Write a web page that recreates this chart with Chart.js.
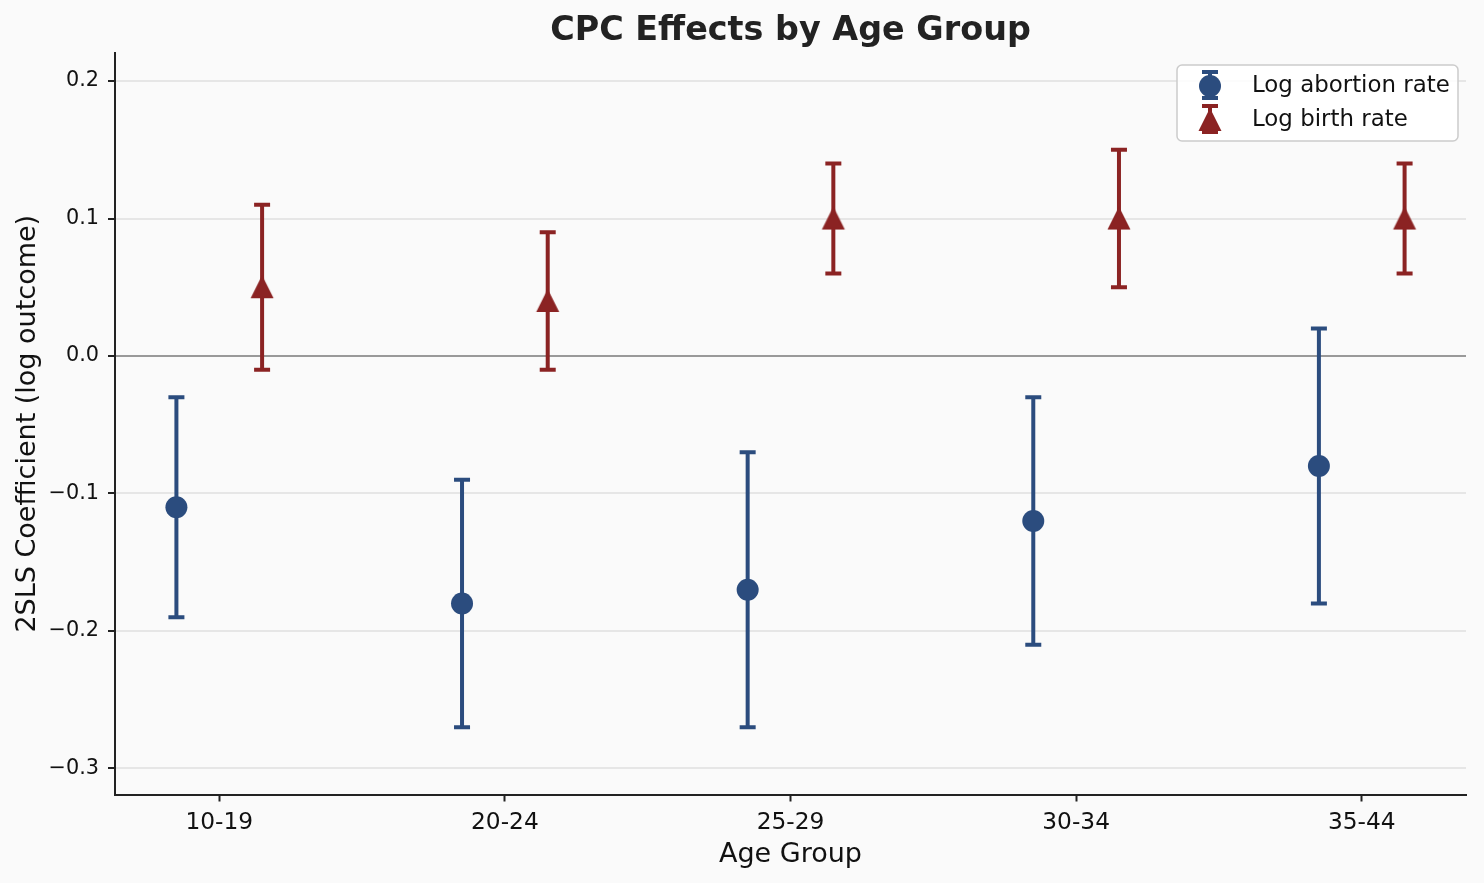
<!DOCTYPE html>
<html>
<head>
<meta charset="utf-8">
<script src="https://cdn.jsdelivr.net/npm/chart.js@4.4.0/dist/chart.umd.min.js"></script>
<style>
html,body{margin:0;padding:0;background:#fafafa;}
#wrap{width:1484px;height:883px;position:relative;}
</style>
</head>
<body>
<div id="wrap"><canvas id="c" width="1484" height="883"></canvas></div>
<script>
const categories = ['10-19', '20-24', '25-29', '30-34', '35-44'];
const abortionCoef = [-0.11, -0.18, -0.17, -0.12, -0.08];
const abortionLow  = [-0.19, -0.27, -0.27, -0.21, -0.18];
const abortionHigh = [-0.03, -0.09, -0.07, -0.03, 0.02];
const birthCoef = [0.05, 0.04, 0.10, 0.10, 0.10];
const birthLow  = [-0.01, -0.01, 0.06, 0.05, 0.06];
const birthHigh = [0.11, 0.09, 0.14, 0.15, 0.14];
const yTicks = [-0.3, -0.2, -0.1, 0.0, 0.1, 0.2];
const seriesNames = ['Log abortion rate', 'Log birth rate'];
const offsets = [-0.15, 0.15];

const BLUE = '#2b4c7e';
const RED = '#8b2323';
const FONT = "'DejaVu Sans', sans-serif";

function pts(vals, lo, hi, off) {
  return vals.map((v, i) => ({x: i + off, y: v, lo: lo[i], hi: hi[i]}));
}

function drawTri(ctx, cx, cy, color) {
  const h = 10.2;
  ctx.save();
  ctx.fillStyle = color;
  ctx.strokeStyle = color;
  ctx.lineWidth = 1.6;
  ctx.lineJoin = 'miter';
  ctx.beginPath();
  ctx.moveTo(cx, cy - h);
  ctx.lineTo(cx + h, cy + h);
  ctx.lineTo(cx - h, cy + h);
  ctx.closePath();
  ctx.fill();
  ctx.stroke();
  ctx.restore();
}

const triCanvas = document.createElement('canvas');
triCanvas.width = 28; triCanvas.height = 28;
drawTri(triCanvas.getContext('2d'), 14, 14, RED);

const errorBars = {
  id: 'errorBars',
  beforeDatasetsDraw(chart) {
    const ctx = chart.ctx;
    const xs = chart.scales.x, ys = chart.scales.y;
    chart.data.datasets.forEach(ds => {
      ctx.save();
      ctx.strokeStyle = ds.borderColor;
      ctx.lineWidth = 4;
      ctx.lineCap = 'butt';
      ds.data.forEach(p => {
        const px = xs.getPixelForValue(p.x);
        const yl = ys.getPixelForValue(p.lo);
        const yh = ys.getPixelForValue(p.hi);
        ctx.beginPath();
        ctx.moveTo(px, yl); ctx.lineTo(px, yh);
        ctx.moveTo(px - 8, yl); ctx.lineTo(px + 8, yl);
        ctx.moveTo(px - 8, yh); ctx.lineTo(px + 8, yh);
        ctx.stroke();
      });
      ctx.restore();
    });
  },
  afterDraw(chart) {
    const ctx = chart.ctx;
    const ca = chart.chartArea;
    ctx.save();
    // title
    ctx.fillStyle = '#222';
    ctx.font = "bold 33.4px " + FONT;
    ctx.textAlign = 'center';
    ctx.textBaseline = 'alphabetic';
    ctx.fillText('CPC Effects by Age Group', (ca.left + ca.right) / 2, 39.5);
    // legend
    const bx = 1177, by = 65, bw = 281, bh = 76;
    ctx.beginPath();
    ctx.roundRect(bx, by, bw, bh, 5);
    ctx.fillStyle = 'rgba(255,255,255,0.85)';
    ctx.fill();
    ctx.strokeStyle = '#cccccc';
    ctx.lineWidth = 1.5;
    ctx.stroke();
    chart.data.datasets.forEach((ds, i) => {
      const cy = 86 + i * 34;
      const mx = 1210;
      ctx.strokeStyle = ds.borderColor;
      ctx.lineWidth = 4;
      ctx.beginPath();
      ctx.moveTo(mx, cy - 14); ctx.lineTo(mx, cy + 12);
      ctx.moveTo(mx - 8, cy - 14); ctx.lineTo(mx + 8, cy - 14);
      ctx.moveTo(mx - 8, cy + 12); ctx.lineTo(mx + 8, cy + 12);
      ctx.stroke();
      if (i === 0) {
        ctx.fillStyle = ds.backgroundColor;
        ctx.beginPath();
        ctx.arc(mx, cy, 11, 0, Math.PI * 2);
        ctx.fill();
      } else {
        drawTri(ctx, mx, cy, RED);
      }
      ctx.fillStyle = '#111';
      ctx.font = "22.9px " + FONT;
      ctx.textAlign = 'left';
      ctx.textBaseline = 'alphabetic';
      ctx.fillText(ds.label, 1252, cy + 6.2);
    });
    ctx.restore();
  }
};

const bg = {
  id: 'bg',
  beforeDraw(chart) {
    const ctx = chart.ctx;
    ctx.save();
    ctx.fillStyle = '#fafafa';
    ctx.fillRect(0, 0, chart.width, chart.height);
    ctx.restore();
  }
};

new Chart(document.getElementById('c'), {
  type: 'scatter',
  data: {
    datasets: [
      {
        label: seriesNames[0],
        data: pts(abortionCoef, abortionLow, abortionHigh, offsets[0]),
        backgroundColor: BLUE, borderColor: BLUE,
        pointStyle: 'circle', pointRadius: 11, pointHoverRadius: 11, borderWidth: 0
      },
      {
        label: seriesNames[1],
        data: pts(birthCoef, birthLow, birthHigh, offsets[1]),
        backgroundColor: RED, borderColor: RED,
        pointStyle: triCanvas, pointRadius: 14, pointHoverRadius: 14, borderWidth: 0
      }
    ]
  },
  options: {
    responsive: false,
    animation: false,
    events: [],
    layout: {padding: {top: 53, right: 18, left: 0, bottom: 0}},
    plugins: {legend: {display: false}, title: {display: false}, tooltip: {enabled: false}},
    scales: {
      x: {
        type: 'linear',
        min: -0.365, max: 4.365,
        afterBuildTicks(s) { s.ticks = categories.map((c, i) => ({value: i})); },
        afterFit(s) { s.height = 88.5; },
        ticks: {
          callback: (v) => categories[v] !== undefined ? categories[v] : '',
          font: {family: FONT, size: 23.3},
          color: '#111',
          padding: 7,
          maxRotation: 0,
          autoSkip: false
        },
        grid: {drawOnChartArea: false, drawTicks: true, tickLength: 7, tickColor: '#222', tickWidth: 2},
        border: {display: true, color: '#222', width: 2},
        title: {display: true, text: 'Age Group', font: {family: FONT, size: 27}, color: '#111', padding: {top: 12, bottom: 12}}
      },
      y: {
        type: 'linear',
        min: -0.319, max: 0.2204,
        afterBuildTicks(s) { s.ticks = yTicks.map(v => ({value: v})); },
        afterFit(s) { s.width = 115; },
        ticks: {
          callback: (v) => (v < 0 ? '\u2212' : '') + Math.abs(v).toFixed(1),
          font: {family: FONT, size: 20.8},
          color: '#111',
          padding: 9
        },
        grid: {
          color: (c) => (c.tick && Math.abs(c.tick.value) < 1e-9) ? '#999999' : '#e6e6e6',
          lineWidth: 2,
          drawTicks: true, tickLength: 7, tickColor: '#222', tickWidth: 2
        },
        border: {display: true, color: '#222', width: 2},
        title: {display: true, text: '2SLS Coefficient (log outcome)', font: {family: FONT, size: 27}, color: '#111', padding: {top: 12, bottom: 12}}
      }
    }
  },
  plugins: [bg, errorBars]
});
</script>
</body>
</html>
